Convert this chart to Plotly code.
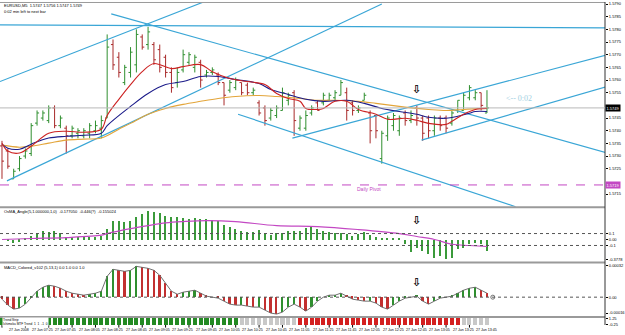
import plotly.graph_objects as go

# ---------------- data ----------------
bars = list(range(84))
opens = [1.5734,1.5732,1.5721,1.5725,1.5730,1.5731,1.5743,1.5745,1.5744,1.5749,
         1.5742,1.5741,1.5738,1.5739,1.5738,1.5739,1.5740,1.5741,1.5745,1.5774,
         1.5769,1.5759,1.5763,1.5766,1.5777,1.5774,1.5774,1.5772,1.5769,1.5763,
         1.5759,1.5764,1.5767,1.5765,1.5767,1.5762,1.5763,1.5762,1.5759,1.5756,
         1.5757,1.5759,1.5758,1.5755,1.5751,1.5749,1.5745,1.5746,1.5748,1.5752,
         1.5755,1.5741,1.5741,1.5747,1.5751,1.5751,1.5752,1.5753,1.5754,1.5755,
         1.5751,1.5748,1.5752,1.5747,1.5746,1.5729,1.5738,1.5742,1.5740,1.5747,
         1.5744,1.5749,1.5745,1.5745,1.5740,1.5745,1.5745,1.5743,1.5748,1.5748,
         1.5753,1.5753,1.5755,1.5747]
highs = [1.5736,1.5733,1.5725,1.5730,1.5733,1.5743,1.5748,1.5748,1.5750,1.5750,
         1.5746,1.5742,1.5742,1.5741,1.5741,1.5743,1.5744,1.5746,1.5778,1.5776,
         1.5771,1.5766,1.5773,1.5780,1.5778,1.5781,1.5775,1.5774,1.5770,1.5765,
         1.5765,1.5772,1.5771,1.5770,1.5768,1.5764,1.5765,1.5763,1.5759,1.5760,
         1.5761,1.5759,1.5759,1.5757,1.5752,1.5750,1.5749,1.5750,1.5757,1.5755,
         1.5756,1.5746,1.5748,1.5750,1.5752,1.5755,1.5755,1.5756,1.5760,1.5757,
         1.5752,1.5750,1.5755,1.5748,1.5746,1.5740,1.5746,1.5747,1.5746,1.5748,
         1.5748,1.5750,1.5746,1.5746,1.5746,1.5746,1.5746,1.5748,1.5752,1.5755,
         1.5758,1.5756,1.5755,1.5756]
lows = [1.5721,1.5725,1.5721,1.5724,1.5729,1.5730,1.5742,1.5744,1.5743,1.5741,
        1.5741,1.5731,1.5737,1.5737,1.5737,1.5737,1.5739,1.5737,1.5745,1.5764,
        1.5761,1.5758,1.5761,1.5763,1.5772,1.5772,1.5766,1.5763,1.5761,1.5755,
        1.5757,1.5763,1.5766,1.5763,1.5757,1.5761,1.5762,1.5758,1.5750,1.5755,
        1.5756,1.5754,1.5754,1.5754,1.5746,1.5742,1.5744,1.5745,1.5748,1.5750,
        1.5738,1.5740,1.5740,1.5746,1.5748,1.5750,1.5752,1.5752,1.5754,1.5744,
        1.5746,1.5747,1.5752,1.5735,1.5737,1.5727,1.5736,1.5740,1.5738,1.5742,
        1.5743,1.5742,1.5736,1.5737,1.5738,1.5740,1.5739,1.5742,1.5747,1.5748,
        1.5752,1.5752,1.5748,1.5747]
closes = [1.5728,1.5726,1.5724,1.5729,1.5732,1.5742,1.5747,1.5747,1.5749,1.5742,
          1.5745,1.5738,1.5741,1.5740,1.5740,1.5742,1.5742,1.5744,1.5773,1.5766,
          1.5763,1.5765,1.5771,1.5778,1.5773,1.5779,1.5768,1.5765,1.5763,1.5757,
          1.5763,1.5770,1.5770,1.5769,1.5760,1.5763,1.5764,1.5759,1.5754,1.5759,
          1.5760,1.5755,1.5755,1.5756,1.5747,1.5744,1.5748,1.5749,1.5755,1.5754,
          1.5744,1.5745,1.5746,1.5749,1.5748,1.5754,1.5754,1.5755,1.5759,1.5748,
          1.5748,1.5749,1.5754,1.5740,1.5740,1.5739,1.5745,1.5746,1.5745,1.5744,
          1.5746,1.5745,1.5739,1.5740,1.5745,1.5742,1.5741,1.5747,1.5752,1.5754,
          1.5757,1.5755,1.5750,1.5749]

# moving averages
ma_fast_x = [0,1,3,5,8,11,14,17,18,20,22,24,26,29,31,34,36,39,42,45,47,49,51,52,54,55,57,59,61,64,66,69,71,73,76,77,79,81,83]
ma_fast_y = [1.57351,1.57320,1.57312,1.57339,1.57390,1.57398,1.57394,1.57406,1.57460,1.57524,1.57582,1.57633,1.57665,
             1.57645,1.57653,1.57661,1.57633,1.57606,1.57594,1.57582,1.57547,1.57527,1.57516,1.57488,1.57484,1.57488,
             1.57516,1.57516,1.57484,1.57465,1.57445,1.57449,1.57441,1.57429,1.57425,1.57437,1.57465,1.57484,1.57488]
ma_mid_x = [0,1,3,5,8,11,14,17,18,22,25,28,31,34,37,40,44,46,49,52,55,59,62,65,68,71,73,76,78,80,81,83]
ma_mid_y = [1.57347,1.57331,1.57327,1.57347,1.57371,1.57378,1.57382,1.57390,1.57420,1.57496,1.57547,1.57582,1.57594,
            1.57614,1.57614,1.57602,1.57586,1.57563,1.57543,1.57524,1.57516,1.57520,1.57508,1.57488,1.57476,1.57465,
            1.57453,1.57449,1.57457,1.57469,1.57476,1.57476]
ma_slow_x = [0,3,5,8,11,14,17,20,22,25,28,31,34,37,40,44,47,51,54,57,61,64,68,71,73,76,79,83]
ma_slow_y = [1.57343,1.57335,1.57339,1.57351,1.57363,1.57367,1.57371,1.57406,1.57429,1.57465,1.57488,1.57504,1.57516,
             1.57527,1.57535,1.57539,1.57535,1.57527,1.57520,1.57520,1.57516,1.57508,1.57496,1.57488,1.57484,1.57480,
             1.57484,1.57488]

# trend lines: (bar0, price0, bar1, price1)
trend_x0 = [-0.34, -0.34, 0.85, 18.7, 40.4, 49.7, 71.8]
trend_y0 = [1.57818, 1.57594, 1.57202, 1.57861, 1.57465, 1.57371, 1.57363]
trend_x1 = [103.2, 34.5, 65.0, 103.6, 87.9, 103.6, 103.6]
trend_y1 = [1.57806, 1.57908, 1.57900, 1.57312, 1.57100, 1.57700, 1.57575]

bid_price = 1.5749
pivot_price = 1.57186

# OsMA-angle sub window
osma = [0,-0.02,-0.05,-0.03,0.03,0.07,0.12,0.15,0.13,0.15,0.12,0.05,0.05,0.05,0.05,0.05,0.05,0.07,
        0.18,0.32,0.32,0.30,0.32,0.38,0.43,0.48,0.47,0.45,0.40,0.38,0.38,0.37,0.35,0.37,0.35,0.35,0.33,0.32,
        0.25,0.22,0.18,0.15,0.13,0.13,0.17,0.12,0.08,0.12,0.12,0.15,0.15,0.15,0.20,0.23,0.18,0.15,0.13,0.12,
        0.12,0.10,0.07,0.10,0.13,0.08,0.05,0.02,0.02,0.03,0.02,
        -0.07,-0.20,-0.13,-0.18,-0.23,-0.30,-0.28,-0.33,-0.30,-0.15,-0.13,-0.07,-0.05,-0.07,-0.18]
signal_x = [0,5,11,17,18,22,25,28,31,35,40,47,54,61,68,71,74,77,80,83]
signal_y = [0,0.017,0.033,0.072,0.10,0.183,0.233,0.278,0.30,0.317,0.30,0.233,0.217,0.167,0.10,0.05,0.0,-0.08,-0.10,-0.117]

# MACD colored sub window (points)
macd = [-2,-8,-12,-11,-7,-1,6,10,12,11,9,6,4,3,2,3,4,6,21,28,27,26,27,31,30,29,27,22,14,6,3,5,6,7,4,1,0,-1,
        -4,-7,-8,-8,-9,-10,-10,-13,-16,-17,-15,-10,-7,-10,-14,-10,-4,0,2,2,4,1,-2,-3,-4,-4,-6,-10,-12,-8,-4,-1,
        0,1,-4,-7,-4,-1,0,1,4,7,9,10,7,4]

# trend strip: 1 up, 0 flat, -1 down
trend_state = [1,1,1,1,1,1,1,1,1,1,1,1,1,1,1,1,1,1,1,1,1,1,1,1,1,1,1,1,1,1,1,1,1,1,1,1,1,1,1,1,1,
               0,0,0,0,0,0,0,0,0,0,
               -1,-1,-1,-1,-1,-1,-1,-1,-1,-1,-1,-1,-1,-1,-1,-1,-1,-1,-1,-1,-1,-1,-1,-1,-1,-1,-1,-1,
               0,0,0,0,0]

# signal arrows (bar, value in each window)
arrow_bar = 71
arrow_main = 1.57530
arrow_osma = 0.17
arrow_macd = 6

time_ticks = [0,4,8,12,16,20,24,28,32,36,40,44,48,52,56,60,64,68,72,76,80]
time_labels = ["27 Jun 2008","27 Jun 07:25","27 Jun 07:45","27 Jun 08:05","27 Jun 08:25","27 Jun 08:45",
               "27 Jun 09:05","27 Jun 09:25","27 Jun 09:45","27 Jun 10:05","27 Jun 10:25","27 Jun 10:45",
               "27 Jun 11:05","27 Jun 11:25","27 Jun 11:45","27 Jun 12:05","27 Jun 12:25","27 Jun 12:45",
               "27 Jun 13:05","27 Jun 13:25","27 Jun 13:45"]
price_ticks = [1.5790,1.5785,1.5780,1.5775,1.5770,1.5765,1.5760,1.5755,1.5745,1.5740,1.5735,1.5730,1.5725,1.5715]

# ---------------- figure ----------------
FONT = "Liberation Sans"
GREEN = "#2f8f2f"
RED = "#a82a2a"
CYAN = "#3aa6d6"
MAGENTA = "#c348c3"

fig = go.Figure()

fig.add_trace(go.Ohlc(x=bars, open=opens, high=highs, low=lows, close=closes,
                      increasing_line_color=GREEN, decreasing_line_color=RED,
                      line_width=1, tickwidth=0.35, xaxis="x", yaxis="y",
                      showlegend=False, hoverinfo="skip"))

for tx0, ty0, tx1, ty1 in zip(trend_x0, trend_y0, trend_x1, trend_y1):
    fig.add_trace(go.Scatter(x=[tx0, tx1], y=[ty0, ty1], mode="lines",
                             line=dict(color=CYAN, width=1.2), yaxis="y",
                             showlegend=False, hoverinfo="skip"))

fig.add_trace(go.Scatter(x=ma_slow_x, y=ma_slow_y, mode="lines",
                         line=dict(color="#e3a53a", width=1.1, shape="spline"),
                         yaxis="y", showlegend=False, hoverinfo="skip"))
fig.add_trace(go.Scatter(x=ma_mid_x, y=ma_mid_y, mode="lines",
                         line=dict(color="#1c1c8a", width=1.1, shape="spline"),
                         yaxis="y", showlegend=False, hoverinfo="skip"))
fig.add_trace(go.Scatter(x=ma_fast_x, y=ma_fast_y, mode="lines",
                         line=dict(color="#cc2222", width=1.1, shape="spline"),
                         yaxis="y", showlegend=False, hoverinfo="skip"))

# OsMA
fig.add_trace(go.Bar(x=bars, y=osma, marker_color="#3a9a3a", marker_line_width=0, width=0.25,
                     yaxis="y2", showlegend=False, hoverinfo="skip"))
fig.add_trace(go.Scatter(x=signal_x, y=signal_y, mode="lines",
                         line=dict(color=MAGENTA, width=1.2, shape="spline"),
                         yaxis="y2", showlegend=False, hoverinfo="skip"))

# MACD colored
macd_colors = [GREEN if (i > 0 and macd[i] >= macd[i - 1]) else "#c23030" for i in range(len(macd))]
fig.add_trace(go.Bar(x=bars, y=macd, marker_color=macd_colors, marker_line_width=0, width=0.3,
                     yaxis="y3", showlegend=False, hoverinfo="skip"))
fig.add_trace(go.Scatter(x=bars, y=macd, mode="lines", line=dict(color="#707070", width=1),
                         yaxis="y3", showlegend=False, hoverinfo="skip"))
fig.add_trace(go.Scatter(x=[84], y=[0], mode="markers",
                         marker=dict(symbol="circle-open", size=4, color="#707070"),
                         yaxis="y3", showlegend=False, hoverinfo="skip"))

# trend strip
strip_colors = [{1: "#238a23", 0: "#c8c8c8", -1: "#d42020"}[s] for s in trend_state]
fig.add_trace(go.Bar(x=bars, y=[1] * len(bars), marker_color=strip_colors, marker_line_width=0,
                     width=0.7, yaxis="y4", showlegend=False, hoverinfo="skip"))

H = 325.0
def py(pix):
    return (H - pix) / H

tick_font = dict(family=FONT, size=4, color="black")
common_y = dict(side="right", showgrid=False, zeroline=False, ticks="outside", ticklen=2,
                tickcolor="black", tickfont=tick_font, anchor="x", showline=False)

fig.update_layout(
    width=625, height=335,
    margin=dict(l=0, r=15, t=0, b=10),
    paper_bgcolor="white", plot_bgcolor="white",
    bargap=0, barmode="overlay",
    xaxis=dict(domain=[0, 1], range=[-0.34, 103.2], showgrid=False, zeroline=False,
               showticklabels=False, rangeslider=dict(visible=False), anchor="y4", showline=False,
               ticks=""),
    yaxis=dict(domain=[py(206), 1], range=[1.5710, 1.57908], tickvals=price_ticks,
               ticktext=["%.4f" % v for v in price_ticks], **common_y),
    yaxis2=dict(domain=[py(261), py(207)], range=[-0.367, 0.533], tickvals=[0.1, 0.0, -0.1, -0.33],
                ticktext=["0.1", "0.00", "-0.1", "-0.3778"], **common_y),
    yaxis3=dict(domain=[py(316), py(263)], range=[-19, 34], tickvals=[32, 0, -16],
                ticktext=["0.00032", "0.00", "-0.00016"], **common_y),
    yaxis4=dict(domain=[0, py(318)], range=[0, 1], tickvals=[0.9, 0.1], ticktext=["1.25", "-0.25"],
                **common_y),
    font=dict(family=FONT),
)

shapes = []
for pix in [206.5, 262, 317]:
    shapes.append(dict(type="line", xref="paper", yref="paper", x0=0, x1=1, y0=py(pix), y1=py(pix),
                       line=dict(color="#9a9a9a", width=2)))
shapes.append(dict(type="line", xref="paper", yref="paper", x0=0, x1=1, y0=py(0.5), y1=py(0.5),
                   line=dict(color="#9a9a9a", width=1)))
shapes.append(dict(type="line", xref="paper", yref="paper", x0=1, x1=1, y0=0, y1=1,
                   line=dict(color="#333333", width=1)))
shapes.append(dict(type="line", xref="paper", yref="y", x0=0, x1=1, y0=bid_price, y1=bid_price,
                   line=dict(color="#b8b8b8", width=1)))
shapes.append(dict(type="line", xref="paper", yref="y", x0=0, x1=1, y0=pivot_price, y1=pivot_price,
                   line=dict(color=MAGENTA, width=1, dash="dash")))
for lv in [0.1, -0.1]:
    shapes.append(dict(type="line", xref="paper", yref="y2", x0=0, x1=1, y0=lv, y1=lv,
                       line=dict(color="#555555", width=1, dash="dot")))
shapes.append(dict(type="line", xref="paper", yref="y3", x0=0, x1=1, y0=0, y1=0,
                   line=dict(color="#555555", width=1, dash="dot")))
for t in time_ticks:
    shapes.append(dict(type="line", xref="x", yref="paper", x0=t, x1=t, y0=0, y1=-0.008,
                       line=dict(color="black", width=1)))
fig.update_layout(shapes=shapes)

ann = []
ann.append(dict(text="EURUSD,M5  1.5747 1.5756 1.5747 1.5749", xref="paper", yref="paper",
                x=0.004, y=py(4), xanchor="left", yanchor="middle", showarrow=False,
                font=dict(family=FONT, size=4, color="black")))
ann.append(dict(text="0:02 min left to next bar", xref="paper", yref="paper",
                x=0.004, y=py(9.5), xanchor="left", yanchor="middle", showarrow=False,
                font=dict(family=FONT, size=4, color="black")))
ann.append(dict(text="<-- 0:02", xref="x", yref="y", x=85.9, y=1.57527, xanchor="left",
                yanchor="middle", showarrow=False,
                font=dict(family="Liberation Serif", size=8, color="#9fd0e2")))
ann.append(dict(text="Daily Pivot", xref="x", yref="y", x=60.4, y=1.57171, xanchor="left",
                yanchor="middle", showarrow=False, font=dict(family=FONT, size=5, color=MAGENTA)))
ann.append(dict(text="OsMA_Angle(5,1.000000,1,0)  -0.177050  -0.446(?)  -0.155024", xref="paper",
                yref="paper", x=0.004, y=py(210.5), xanchor="left", yanchor="middle", showarrow=False,
                font=dict(family=FONT, size=4, color="black")))
ann.append(dict(text="MACD_Colored_v102 (5,13,1) 0.0 1.0 0.0 1.0", xref="paper",
                yref="paper", x=0.004, y=py(267), xanchor="left", yanchor="middle", showarrow=False,
                font=dict(family=FONT, size=4, color="black")))
ann.append(dict(text="Trend Strip<br>Ichimoku MTF Trend  1  1  -1  0", xref="paper",
                yref="paper", x=0.004, y=py(321.5), xanchor="left", yanchor="middle", showarrow=False,
                bgcolor="white", borderpad=0, align="left",
                font=dict(family=FONT, size=3.2, color="black")))
# hollow signal arrows
for yr, yv in [("y", arrow_main), ("y2", arrow_osma), ("y3", arrow_macd)]:
    ann.append(dict(text="<b>\u21e9</b>", xref="x", yref=yr, x=arrow_bar, y=yv, xanchor="center",
                    yanchor="bottom", showarrow=False,
                    font=dict(family="DejaVu Sans", size=11, color="#000000")))
# price boxes on the right scale
ann.append(dict(text="1.5749", xref="paper", yref="y", x=1, y=bid_price, xanchor="left",
                yanchor="middle", showarrow=False, bgcolor="black", borderpad=0.5,
                font=dict(family=FONT, size=4, color="white")))
ann.append(dict(text="1.5719", xref="paper", yref="y", x=1, y=pivot_price, xanchor="left",
                yanchor="middle", showarrow=False, bgcolor=MAGENTA, borderpad=0.5,
                font=dict(family=FONT, size=4, color="white")))
for t, lab in zip(time_ticks, time_labels):
    ann.append(dict(text=lab, xref="x", yref="paper", x=t + 0.8, y=py(330), xanchor="left",
                    yanchor="middle", showarrow=False, font=dict(family=FONT, size=3.6, color="black")))
fig.update_layout(annotations=ann)

fig.write_html("out.html")
